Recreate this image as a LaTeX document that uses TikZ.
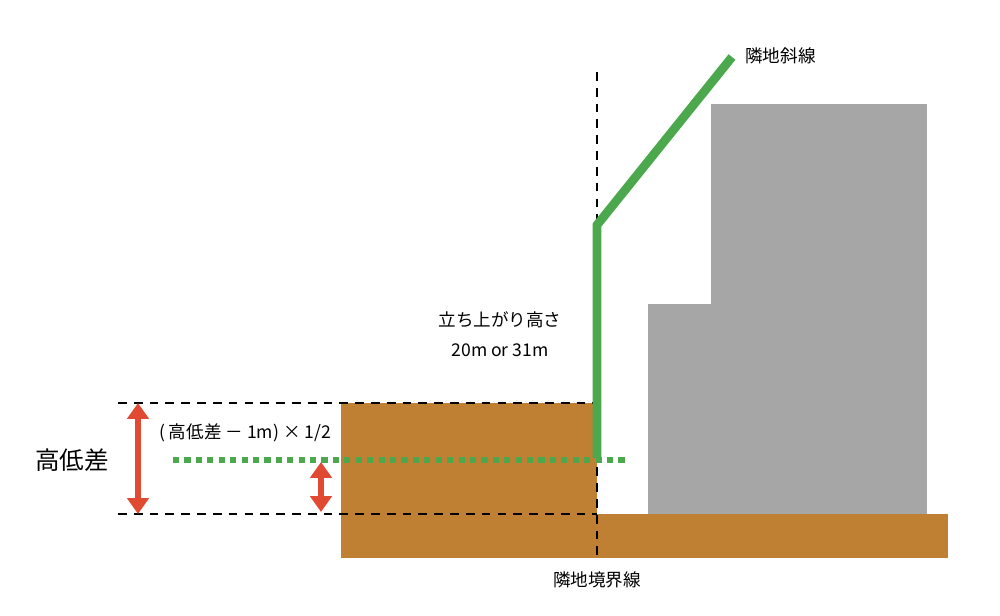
\documentclass[tikz,border=0pt]{standalone}
\usepackage{fontspec}
\setmainfont{Noto Sans CJK JP}
\usetikzlibrary{arrows.meta}
\definecolor{soil}{HTML}{BF8033}
\definecolor{bldg}{HTML}{A6A6A6}
\definecolor{slope}{HTML}{4CA84C}
\definecolor{diff}{HTML}{E04A33}
\tikzset{
  guide/.style={dashed, thick, dash pattern=on 5pt off 4pt},
  diffarrow/.style={diff, line width=3pt, {Triangle[length=9pt,width=12pt]}-{Triangle[length=9pt,width=12pt]}},
  lbl/.style={font=\fontsize{10}{12}\selectfont, inner sep=0pt}
}
\begin{document}
\begin{tikzpicture}[x=0.02cm,y=-0.02cm]
  \useasboundingbox (0,0) rectangle (1000,615);
  % ground and building
  \fill[soil] (341,403) rectangle (597,558);
  \fill[soil] (597,514) rectangle (948,558);
  \fill[bldg] (648,304) rectangle (927,514);
  \fill[bldg] (711,104) rectangle (927,514);
  % guides
  \coordinate (btop) at (597,72);
  \coordinate (bbot) at (597,558);
  \draw[guide] (btop) -- (bbot);
  \draw[guide] (118,403) -- (597,403);
  \draw[guide] (118,514) -- (597,514);
  % slope line
  \draw[slope, line width=5pt, line join=miter] (597,458) -- (597,225) -- (732,57);
  \draw[slope, line width=3.5pt, dash pattern=on 3.5pt off 3pt] (173,460) -- (625,460);
  % height arrows
  \draw[diffarrow] (138,403) -- (138,514);
  \draw[diffarrow] (321,462) -- (321,512);
  % labels
  \node[lbl, font=\fontsize{14}{16}\selectfont] (hd) at (72,460) {高低差};
  \node[lbl] (half) at (245,433) {( 高低差 － 1m) × 1/2};
  \node[lbl] (rise) at (500,320) {立ち上がり高さ};
  \node[lbl] (rval) at (500,350) {20m or 31m};
  \node[lbl, anchor=west] (sl) at (745,56) {隣地斜線};
  \node[lbl] (bd) at (597,580) {隣地境界線};
\end{tikzpicture}
\end{document}
